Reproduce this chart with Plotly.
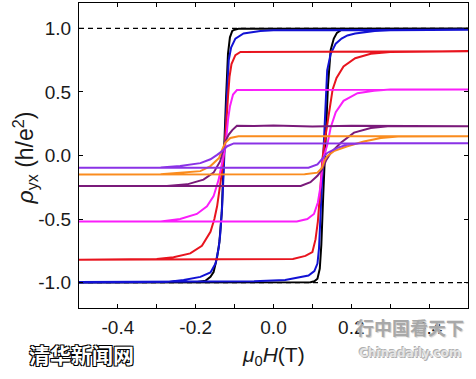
import plotly.graph_objects as go

# ---------------- data ----------------
# each loop: ascending sweep (-0.5 -> 0.5) then descending sweep (0.5 -> -0.5)
black_up_x = [-0.5, 0.06, 0.095, 0.105, 0.113, 0.119, 0.123, 0.128, 0.134, 0.140, 0.147, 0.155, 0.163, 0.175, 0.2, 0.5]
black_up_y = [-1.0, -1.0, -0.997, -0.99, -0.97, -0.89, -0.70, -0.30, 0.15, 0.55, 0.83, 0.92, 0.965, 0.99, 0.998, 1.0]
black_dn_x = [0.5, -0.05, -0.09, -0.1, -0.106, -0.112, -0.117, -0.122, -0.128, -0.133, -0.139, -0.145, -0.154, -0.162, -0.175, -0.2, -0.5]
black_dn_y = [1.0, 1.0, 0.997, 0.99, 0.98, 0.93, 0.80, 0.45, -0.05, -0.45, -0.68, -0.80, -0.917, -0.955, -0.985, -0.998, -1.0]

blue_up_x = [-0.5, -0.05, 0.03, 0.06, 0.09, 0.105, 0.113, 0.117, 0.122, 0.128, 0.133, 0.138, 0.147, 0.16, 0.175, 0.19, 0.21, 0.232, 0.26, 0.3, 0.5]
blue_up_y = [-0.995, -0.99, -0.98, -0.965, -0.945, -0.91, -0.85, -0.73, -0.38, 0.05, 0.40, 0.67, 0.80, 0.88, 0.92, 0.945, 0.96, 0.97, 0.98, 0.985, 0.99]
blue_dn_x = [0.5, 0.0, -0.034, -0.077, -0.098, -0.109, -0.115, -0.12, -0.126, -0.132, -0.137, -0.141, -0.149, -0.162, -0.188, -0.231, -0.274, -0.5]
blue_dn_y = [0.99, 0.985, 0.98, 0.96, 0.92, 0.85, 0.75, 0.45, 0.0, -0.40, -0.62, -0.73, -0.85, -0.92, -0.955, -0.98, -0.995, -1.0]

red_up_x = [-0.5, 0.05, 0.082, 0.10, 0.108, 0.114, 0.117, 0.121, 0.126, 0.132, 0.138, 0.145, 0.152, 0.162, 0.18, 0.21, 0.25, 0.3, 0.5]
red_up_y = [-0.82, -0.815, -0.79, -0.76, -0.66, -0.52, -0.40, -0.20, -0.02, 0.12, 0.25, 0.40, 0.52, 0.61, 0.70, 0.765, 0.80, 0.815, 0.82]
red_dn_x = [0.5, -0.085, -0.098, -0.108, -0.113, -0.117, -0.121, -0.126, -0.132, -0.138, -0.145, -0.152, -0.162, -0.184, -0.214, -0.257, -0.3, -0.5]
red_dn_y = [0.82, 0.815, 0.79, 0.72, 0.62, 0.46, 0.25, 0.05, -0.12, -0.25, -0.40, -0.50, -0.60, -0.71, -0.77, -0.80, -0.815, -0.82]

mag_up_x = [-0.5, 0.06, 0.087, 0.104, 0.114, 0.121, 0.125, 0.13, 0.138, 0.147, 0.16, 0.18, 0.216, 0.258, 0.3, 0.5]
mag_up_y = [-0.52, -0.52, -0.50, -0.46, -0.37, -0.24, -0.10, 0.0, 0.08, 0.22, 0.34, 0.43, 0.49, 0.51, 0.52, 0.52]
mag_dn_x = [0.5, -0.08, -0.094, -0.104, -0.112, -0.117, -0.121, -0.127, -0.132, -0.141, -0.154, -0.171, -0.197, -0.24, -0.29, -0.5]
mag_dn_y = [0.52, 0.52, 0.515, 0.48, 0.385, 0.28, 0.15, 0.02, -0.05, -0.19, -0.32, -0.40, -0.46, -0.50, -0.52, -0.52]

pur_up_x = [-0.5, 0.07, 0.095, 0.113, 0.125, 0.135, 0.147, 0.173, 0.207, 0.25, 0.3, 0.5]
pur_up_y = [-0.24, -0.24, -0.21, -0.16, -0.11, -0.04, 0.02, 0.10, 0.18, 0.216, 0.232, 0.23]
pur_dn_x = [0.5, 0.3, 0.2, 0.1, 0.0, -0.05, -0.094, -0.106, -0.115, -0.124, -0.13, -0.137, -0.154, -0.18, -0.222, -0.274, -0.5]
pur_dn_y = [0.23, 0.232, 0.235, 0.228, 0.236, 0.232, 0.234, 0.20, 0.164, 0.11, 0.03, -0.045, -0.135, -0.19, -0.227, -0.24, -0.24]

org_up_x = [-0.5, 0.08, 0.113, 0.125, 0.131, 0.138, 0.155, 0.19, 0.232, 0.276, 0.32, 0.5]
org_up_y = [-0.15, -0.148, -0.135, -0.095, -0.04, -0.005, 0.034, 0.073, 0.11, 0.138, 0.15, 0.151]
org_dn_x = [0.5, -0.09, -0.111, -0.124, -0.132, -0.14, -0.162, -0.188, -0.24, -0.29, -0.5]
org_dn_y = [0.151, 0.151, 0.138, 0.10, 0.047, -0.02, -0.083, -0.123, -0.135, -0.148, -0.15]

vio_up_x = [-0.5, 0.09, 0.113, 0.125, 0.138, 0.164, 0.19, 0.233, 0.3, 0.5]
vio_up_y = [-0.096, -0.096, -0.07, -0.03, 0.02, 0.06, 0.086, 0.097, 0.097, 0.097]
vio_dn_x = [0.5, -0.09, -0.102, -0.119, -0.132, -0.145, -0.162, -0.188, -0.24, -0.29, -0.5]
vio_dn_y = [0.097, 0.099, 0.095, 0.073, 0.034, 0.005, -0.03, -0.06, -0.083, -0.094, -0.096]

ref_levels = [1.0, -1.0]
field_range = [-0.5, 0.5]

x_tickvals = [-0.4, -0.2, 0.0, 0.2, 0.4]
x_ticktext = ["-0.4", "-0.2", "0.0", "0.2", "0.4"]
y_tickvals = [-1.0, -0.5, 0.0, 0.5, 1.0]
y_ticktext = ["-1.0", "-0.5", "0.0", "0.5", "1.0"]

series = [
    ("black", black_up_x, black_up_y, black_dn_x, black_dn_y, "#000000"),
    ("blue", blue_up_x, blue_up_y, blue_dn_x, blue_dn_y, "#1212d4"),
    ("red", red_up_x, red_up_y, red_dn_x, red_dn_y, "#e8141e"),
    ("magenta", mag_up_x, mag_up_y, mag_dn_x, mag_dn_y, "#fa1efa"),
    ("purple", pur_up_x, pur_up_y, pur_dn_x, pur_dn_y, "#7a1a7a"),
    ("orange", org_up_x, org_up_y, org_dn_x, org_dn_y, "#fa8c1e"),
    ("violet", vio_up_x, vio_up_y, vio_dn_x, vio_dn_y, "#8a32e6"),
]

FONT = "Liberation Sans, Arial, sans-serif"

fig = go.Figure()

for lvl in ref_levels:
    fig.add_trace(go.Scatter(x=field_range, y=[lvl, lvl], mode="lines",
                             line=dict(color="black", width=1.2, dash="5px,4px"),
                             showlegend=False, hoverinfo="skip"))

for name, ux, uy, dx, dy, col in series:
    fig.add_trace(go.Scatter(x=ux + dx, y=uy + dy, mode="lines", name=name,
                             line=dict(color=col, width=2), showlegend=False))

fig.update_layout(
    width=476, height=379,
    margin=dict(l=79, r=8, t=3, b=71),
    paper_bgcolor="white", plot_bgcolor="white",
    font=dict(family=FONT, size=19, color="#1a1a1a"),
    xaxis=dict(range=field_range, tickvals=x_tickvals, ticktext=x_ticktext,
               ticks="inside", ticklen=4, tickwidth=1, tickcolor="black",
               minor=dict(dtick=0.1, ticks="inside", ticklen=4, tickcolor="black"),
               showline=True, linecolor="black", linewidth=1.3, mirror="ticks",
               showgrid=False, zeroline=False, ticklabelstandoff=2),
    yaxis=dict(range=[-1.2, 1.2], tickvals=y_tickvals, ticktext=y_ticktext,
               ticks="inside", ticklen=4, tickwidth=1, tickcolor="black",
               showline=True, linecolor="black", linewidth=1.3, mirror="ticks",
               showgrid=False, zeroline=False, ticklabelstandoff=3),
    annotations=[
        dict(text="<i>ρ</i><sub>yx</sub> (h/e<sup>2</sup>)", xref="paper", yref="paper",
             x=0, y=0.5, xanchor="center", yanchor="middle", textangle=-90,
             xshift=-55, yshift=-3, showarrow=False,
             font=dict(family=FONT, size=23, color="#1a1a1a")),
        dict(text="<i>μ</i><sub>0</sub><i>H</i>(T)", xref="paper", yref="paper",
             x=0.5, y=0, xanchor="center", yanchor="middle",
             yshift=-48, showarrow=False,
             font=dict(family=FONT, size=21, color="#1a1a1a")),
        dict(text="<b>清华新闻网</b>", xref="paper", yref="paper",
             x=0.0064, y=-0.151, xanchor="center", yanchor="middle", showarrow=False,
             font=dict(family="Noto Sans CJK SC", size=21, color="white",
                       shadow="1px 1px 0 #000, -1px -1px 0 #000, 1px -1px 0 #000, -1px 1px 0 #000")),
        dict(text="<b>行中国看天下</b>", xref="paper", yref="paper",
             x=0.851, y=-0.0607, xanchor="center", yanchor="middle", showarrow=False,
             font=dict(family="Noto Sans CJK SC", size=18, color="#a8a8a8",
                       shadow="1px 1px 1px #d0d0d0")),
        dict(text="<b>Chinadaily.com</b>", xref="paper", yref="paper",
             x=0.851, y=-0.149, xanchor="center", yanchor="middle", showarrow=False,
             font=dict(family="DejaVu Sans", size=12, color="#e4e4e4",
                       shadow="1px 1px 0 #b0b0b0, -1px -1px 0 #b0b0b0")),
    ],
)

fig.write_html("out.html", config={"displayModeBar": False},
               post_script="document.body.style.margin='0';")
